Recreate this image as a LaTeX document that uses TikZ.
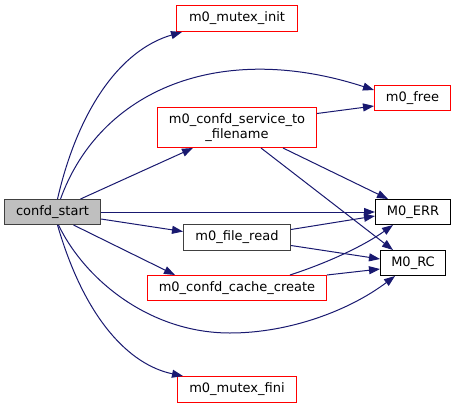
\documentclass[tikz,border=0pt]{standalone}
\usepackage{fontspec}
\setmainfont{DejaVu Sans}
\usetikzlibrary{arrows.meta}
\definecolor{edgec}{HTML}{191970}
\definecolor{startfill}{HTML}{BFBFBF}
\definecolor{darkborder}{HTML}{404040}
\definecolor{redborder}{HTML}{FF0000}
\begin{document}
\begin{tikzpicture}[x=1pt,y=-1pt,
  box/.style={line width=1pt, inner sep=0pt, font=\fontsize{13}{15}\selectfont, align=center, text=black},
  redbox/.style={box, draw=redborder},
  blkbox/.style={box, draw=black},
  graybox/.style={box, draw=darkborder},
  edge/.style={draw=edgec, line width=1pt, -{Triangle[length=11pt,width=8pt]}}]
\useasboundingbox[fill=white] (0,0) rectangle (456,408);
\node[graybox, fill=startfill, minimum width=96pt, minimum height=25pt] (start) at (52.5,212) {confd\_start};
\node[redbox, minimum width=121pt, minimum height=26pt] (init) at (237,18.5) {m0\_mutex\_init};
\node[redbox, minimum width=76pt, minimum height=25pt] (free) at (412.5,98) {m0\_free};
\node[redbox, minimum width=159pt, minimum height=40pt] (svc) at (237,127.5) {m0\_confd\_service\_to\\\_filename};
\node[blkbox, minimum width=75pt, minimum height=25pt] (err) at (413,212) {M0\_ERR};
\node[graybox, minimum width=107pt, minimum height=26pt] (read) at (237,237.5) {m0\_file\_read};
\node[blkbox, minimum width=65pt, minimum height=25pt] (rc) at (413,263) {M0\_RC};
\node[redbox, minimum width=179pt, minimum height=25pt] (cache) at (237,288) {m0\_confd\_cache\_create};
\node[redbox, minimum width=119pt, minimum height=26pt] (fini) at (237,389.5) {m0\_mutex\_fini};

\draw[edge] ([xshift=5pt]start.north) .. controls (78,110) and (120,50) .. ([xshift=6pt]init.south west);
\draw[edge] ([xshift=8pt]start.north) .. controls (100,90) and (220,40) .. ([yshift=8pt]free.west);
\draw[edge] ([xshift=28pt]start.north) -- ([xshift=-44pt]svc.south);
\draw[edge] (start.east) -- (err.west);
\draw[edge] ([yshift=-7pt]start.east) -- ([yshift=6pt]read.west);
\draw[edge] ([xshift=21pt]start.south) -- ([xshift=-62pt]cache.north);
\draw[edge] ([xshift=6pt]start.south) .. controls (85,280) and (150,333) .. (230,333) .. controls (290,333) and (350,310) .. ([xshift=-18pt]rc.south);
\draw[edge] ([xshift=5pt]start.south) .. controls (85,320) and (130,365) .. ([xshift=6pt]fini.north west);

\draw[edge] ([yshift=14pt]svc.east) -- ([yshift=-8pt]free.west);
\draw[edge] ([xshift=46pt]svc.south) -- ([xshift=-25pt]err.north);
\draw[edge] ([xshift=24pt]svc.south) -- ([xshift=-20pt]rc.north);
\draw[edge] ([yshift=8pt]read.east) -- ([yshift=-4pt]err.west);
\draw[edge] ([yshift=-8pt]read.east) -- ([yshift=4pt]rc.west);
\draw[edge] ([xshift=53pt]cache.north) .. controls (330,262) and (365,245) .. ([xshift=-20pt]err.south);
\draw[edge] (cache.north east) -- ([yshift=-6pt]rc.west);
\end{tikzpicture}
\end{document}
